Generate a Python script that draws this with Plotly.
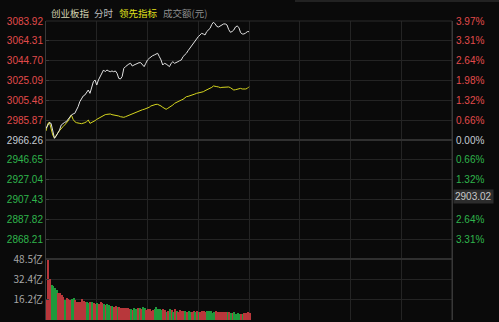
import plotly.graph_objects as go
from plotly.subplots import make_subplots

# ---------------- data ----------------
prev_close = 2966.26
price_ticks = [3083.92, 3064.31, 3044.70, 3025.09, 3005.48, 2985.87, 2966.26,
               2946.65, 2927.04, 2907.43, 2887.82, 2868.21, 2848.60]
price_labels = ["3083.92", "3064.31", "3044.70", "3025.09", "3005.48", "2985.87", "2966.26",
                "2946.65", "2927.04", "2907.43", "2887.82", "2868.21", ""]
# the green 1.98% label is hidden behind the cursor box in the reference
pct_labels = ["3.97%", "3.31%", "2.64%", "1.98%", "1.32%", "0.66%", "0.00%",
              "0.66%", "1.32%", "", "2.64%", "3.31%", ""]
vol_ticks = [48.5, 32.4, 16.2]
vol_labels = ["48.5亿", "32.4亿", "16.2亿"]
cursor_label = "2903.02"
cursor_pos = 2910.0
header = ["创业板指", "分时", "领先指标", "成交额(元)"]

index_price = [
    2977.8, 2981.1, 2983.4, 2982.7, 2976.1, 2967.9, 2970.2, 2972.8, 2976.1, 2981.1,
    2982.7, 2983.7, 2984.4, 2986.7, 2989.3, 2991.0, 2992.0, 2992.6, 2995.9, 2999.2,
    3004.2, 3007.5, 3009.8, 3010.8, 3014.0, 3015.7, 3012.4, 3019.0, 3023.9, 3025.6,
    3020.6, 3025.6, 3028.9, 3032.2, 3035.5, 3033.8, 3035.5, 3034.5, 3033.8, 3034.5,
    3033.8, 3034.5, 3032.2, 3027.2, 3026.6, 3028.9, 3037.1, 3038.8, 3040.4, 3041.4,
    3042.1, 3039.4, 3040.4, 3041.4, 3042.1, 3042.7, 3042.7, 3040.4, 3038.8, 3042.1,
    3045.4, 3047.0, 3048.7, 3049.6, 3050.3, 3051.3, 3052.0, 3048.7, 3045.4, 3040.4,
    3042.1, 3041.4, 3040.4, 3038.8, 3042.1, 3043.7, 3042.1, 3042.7, 3043.7, 3044.7,
    3045.4, 3048.7, 3050.3, 3052.0, 3054.6, 3056.9, 3059.2, 3061.8, 3064.5, 3066.8,
    3068.4, 3070.1, 3071.7, 3071.1, 3070.1, 3073.4, 3075.0, 3076.7, 3080.5, 3082.7,
    3081.0, 3078.5, 3078.0, 3079.0, 3080.0, 3081.0, 3081.0, 3080.0, 3075.5, 3072.8,
    3073.5, 3075.0, 3078.0, 3079.0, 3077.5, 3072.5, 3071.1, 3071.1, 3072.0, 3073.4,
    3073.4,
]

lead_price = [
    2975.2, 2982.1, 2984.1, 2978.1, 2971.2, 2968.2, 2970.2, 2973.2, 2975.5, 2977.8,
    2979.4, 2981.1, 2982.7, 2985.0, 2987.7, 2991.0, 2986.7, 2984.4, 2983.4, 2982.7,
    2982.7, 2982.4, 2982.7, 2983.4, 2984.4, 2986.0, 2982.7, 2983.4, 2984.4, 2985.4,
    2986.7, 2987.7, 2988.7, 2990.0, 2991.0, 2991.3, 2991.6, 2992.0, 2992.0, 2991.3,
    2991.0, 2991.0, 2991.0, 2990.0, 2989.3, 2989.0, 2988.7, 2989.3, 2990.0, 2990.6,
    2991.0, 2992.0, 2992.6, 2993.3, 2994.3, 2995.3, 2995.9, 2996.2, 2996.6, 2997.2,
    2997.6, 2998.6, 2999.9, 3000.5, 3001.2, 3001.5, 3001.5, 3000.9, 2999.9, 2998.6,
    2997.2, 2996.6, 2997.6, 2998.6, 2999.2, 3000.9, 3002.5, 3003.5, 3004.2, 3005.1,
    3005.8, 3006.5, 3007.8, 3009.1, 3009.4, 3009.8, 3010.4, 3010.8, 3011.7, 3012.4,
    3012.7, 3013.1, 3013.7, 3014.0, 3015.0, 3015.7, 3016.4, 3017.3, 3018.3, 3019.7,
    3019.7, 3019.0, 3018.7, 3018.0, 3018.3, 3018.3, 3018.7, 3019.0, 3018.7, 3018.0,
    3016.7, 3015.7, 3016.0, 3016.4, 3017.0, 3017.3, 3016.7, 3016.4, 3016.7, 3017.3,
    3019.0,
]

volume = [
    15.9, 48.3, 32.3, 27.8, 27.2, 25.2, 23.9, 21.7, 21.2, 19.9,
    18.6, 15.9, 17.2, 16.4, 15.9, 16.4, 17.2, 15.9, 14.6, 14.0,
    14.6, 16.4, 15.1, 14.6, 14.6, 13.8, 14.3, 14.0, 13.2, 12.7,
    13.8, 12.5, 14.0, 13.2, 12.5, 11.9, 12.7, 11.9, 11.1, 11.4,
    10.6, 11.4, 10.6, 10.6, 9.8, 9.3, 9.3, 9.3, 9.3, 8.5,
    8.7, 8.0, 9.3, 8.7, 9.3, 9.8, 8.5, 10.6, 9.3, 8.0,
    9.0, 8.5, 7.4, 8.0, 8.5, 10.6, 8.5, 8.5, 8.0, 8.5,
    8.0, 6.6, 7.4, 8.5, 8.0, 6.6, 8.5, 7.2, 6.6, 8.0,
    7.4, 7.4, 7.4, 6.6, 7.4, 6.6, 6.6, 7.2, 6.6, 7.2,
    6.6, 6.6, 7.4, 7.2, 6.6, 7.2, 7.4, 7.2, 5.8, 6.6,
    7.4, 6.6, 6.6, 6.1, 6.1, 6.1, 6.1, 6.6, 6.1, 5.8,
    5.8, 6.1, 4.8, 5.3, 4.8, 4.8, 4.5, 5.8, 5.3, 6.6,
    5.3,
]
vol_dir = list(
    "rrrggggrrr" "rgrrrggrrr" "rrrrggrgrr" "grrrgrggrg" "rrgrrrrrrr"
    "grggrgrggr" "rrrrgggggr" "rgrgrgrgrr" "rrgrggrrgr" "grrrrggggg"
    "rrrrrrrgrg" "rggggrgrrr" "r"
)

# ---------------- styles ----------------
BG = "#0a0a0a"
GRID = "#242424"
AXLINE = "#383838"
RED_T = "#e24b4b"
GREEN_T = "#2fb54c"
NEUTRAL_T = "#c5ccd4"
FONT = "Liberation Sans, Arial, sans-serif"
CJK = "Noto Sans CJK SC, sans-serif"


def colour_for(v):
    if v > prev_close + 0.01:
        return RED_T
    if v < prev_close - 0.01:
        return GREEN_T
    return NEUTRAL_T


left_text = [f'<span style="color:{colour_for(v)}">{t}</span>' for v, t in zip(price_ticks, price_labels)]
right_text = [f'<span style="color:{colour_for(v)}">{t}</span>' for v, t in zip(price_ticks, pct_labels)]

minutes = list(range(len(index_price)))
vminutes = list(range(len(volume)))
bar_colors = ["#b8373b" if d == "r" else "#1f9a3c" for d in vol_dir[:len(volume)]]

fig = make_subplots(rows=2, cols=1, shared_xaxes=True, vertical_spacing=0,
                    row_heights=[238 / 299, 61 / 299],
                    specs=[[{"secondary_y": True}], [{}]])

fig.add_trace(go.Scatter(x=minutes, y=lead_price, mode="lines",
                         line=dict(color="#d6d61e", width=1), hoverinfo="skip"),
              row=1, col=1, secondary_y=False)
fig.add_trace(go.Scatter(x=minutes, y=index_price, mode="lines",
                         line=dict(color="#e2e2e2", width=1), hoverinfo="skip"),
              row=1, col=1, secondary_y=False)
# invisible trace to activate the right axis
fig.add_trace(go.Scatter(x=[0], y=[prev_close], mode="markers",
                         marker=dict(opacity=0), hoverinfo="skip"),
              row=1, col=1, secondary_y=True)
fig.add_trace(go.Bar(x=vminutes, y=volume, marker=dict(color=bar_colors, line=dict(width=0)),
                     width=0.78, offset=0, hoverinfo="skip"),
              row=2, col=1)

yr = [price_ticks[-1], price_ticks[0]]
fig.update_layout(
    width=499, height=322,
    margin=dict(l=46, r=47, t=21, b=2, autoexpand=False),
    paper_bgcolor=BG, plot_bgcolor=BG,
    showlegend=False, bargap=0,
    font=dict(family=FONT, size=10, color="#b0b0b0"),
)
xcommon = dict(range=[0, 240], tickvals=[0, 30, 60, 90, 120, 150, 180, 210, 240],
               showticklabels=False, showgrid=True, gridcolor=GRID, gridwidth=1,
               zeroline=False, showline=False, ticks="", automargin=False, domain=[0, 1])
fig.update_xaxes(**xcommon, row=1, col=1)
fig.update_xaxes(**xcommon, row=2, col=1)

fig.update_yaxes(range=yr, tickvals=price_ticks, ticktext=left_text, tickmode="array",
                 showgrid=True, gridcolor=GRID, gridwidth=1, zeroline=False,
                 showline=True, linecolor=AXLINE, linewidth=1, mirror=False,
                 ticks="inside", ticklen=3, tickcolor="#3a3a3a", automargin=False,
                 tickfont=dict(family=FONT, size=10), ticklabelstandoff=0,
                 row=1, col=1, secondary_y=False)
fig.update_yaxes(range=yr, tickvals=price_ticks, ticktext=right_text, tickmode="array",
                 showgrid=False, zeroline=False, side="right", automargin=False,
                 showline=True, linecolor=AXLINE, linewidth=1,
                 ticks="", tickfont=dict(family=FONT, size=10), ticklabelstandoff=1,
                 row=1, col=1, secondary_y=True)
fig.update_yaxes(range=[0, 48.5], tickvals=vol_ticks, ticktext=vol_labels, tickmode="array",
                 showgrid=True, gridcolor=GRID, gridwidth=1, zeroline=False,
                 showline=True, linecolor=AXLINE, linewidth=1, mirror=True, automargin=False,
                 ticks="inside", ticklen=3, tickcolor="#3a3a3a",
                 tickfont=dict(family=CJK, size=10, color="#a8a8a8"), ticklabelstandoff=0,
                 row=2, col=1)

# brighter zero / separator lines
fig.add_hline(y=prev_close, line=dict(color="#303030", width=2), row=1, col=1)
fig.add_shape(type="line", xref="paper", yref="paper", x0=0, x1=1, y0=61 / 299, y1=61 / 299,
              line=dict(color="#303030", width=2))
fig.add_shape(type="line", xref="paper", yref="paper", x0=0, x1=1, y0=1, y1=1,
              line=dict(color="#2a2a2a", width=1))
fig.add_shape(type="line", xref="paper", yref="paper", x0=1, x1=1, y0=0, y1=1,
              line=dict(color=AXLINE, width=1))
# tab bar hint at the very top
fig.add_shape(type="line", xref="paper", yref="paper", x0=(295 - 46) / 406, x1=(499 - 46) / 406,
              y0=(320 - 1) / 299, y1=(320 - 1) / 299, line=dict(color="#3a3a3a", width=1))

# header texts
hdr_x = [49, 92, 117, 161]
hdr_c = ["#d6d6b4", "#bdbdbd", "#e2e21c", "#8e8e8e"]
for t, px, c in zip(header, hdr_x, hdr_c):
    fig.add_annotation(text=t, xref="paper", yref="paper",
                       x=(px - 46) / 406, y=(320 - 13) / 299,
                       xanchor="left", yanchor="middle", showarrow=False,
                       font=dict(family=CJK, size=9.5, color=c))

# cursor value box on the right axis
fig.add_annotation(text=cursor_label, xref="paper", yref="y",
                   x=(453 - 46) / 406, y=cursor_pos, xanchor="left", yanchor="middle",
                   showarrow=False, bgcolor="#2c2c2c", borderpad=1,
                   font=dict(family=FONT, size=10, color="#c8c8c8"))

fig.write_html("out.html")
